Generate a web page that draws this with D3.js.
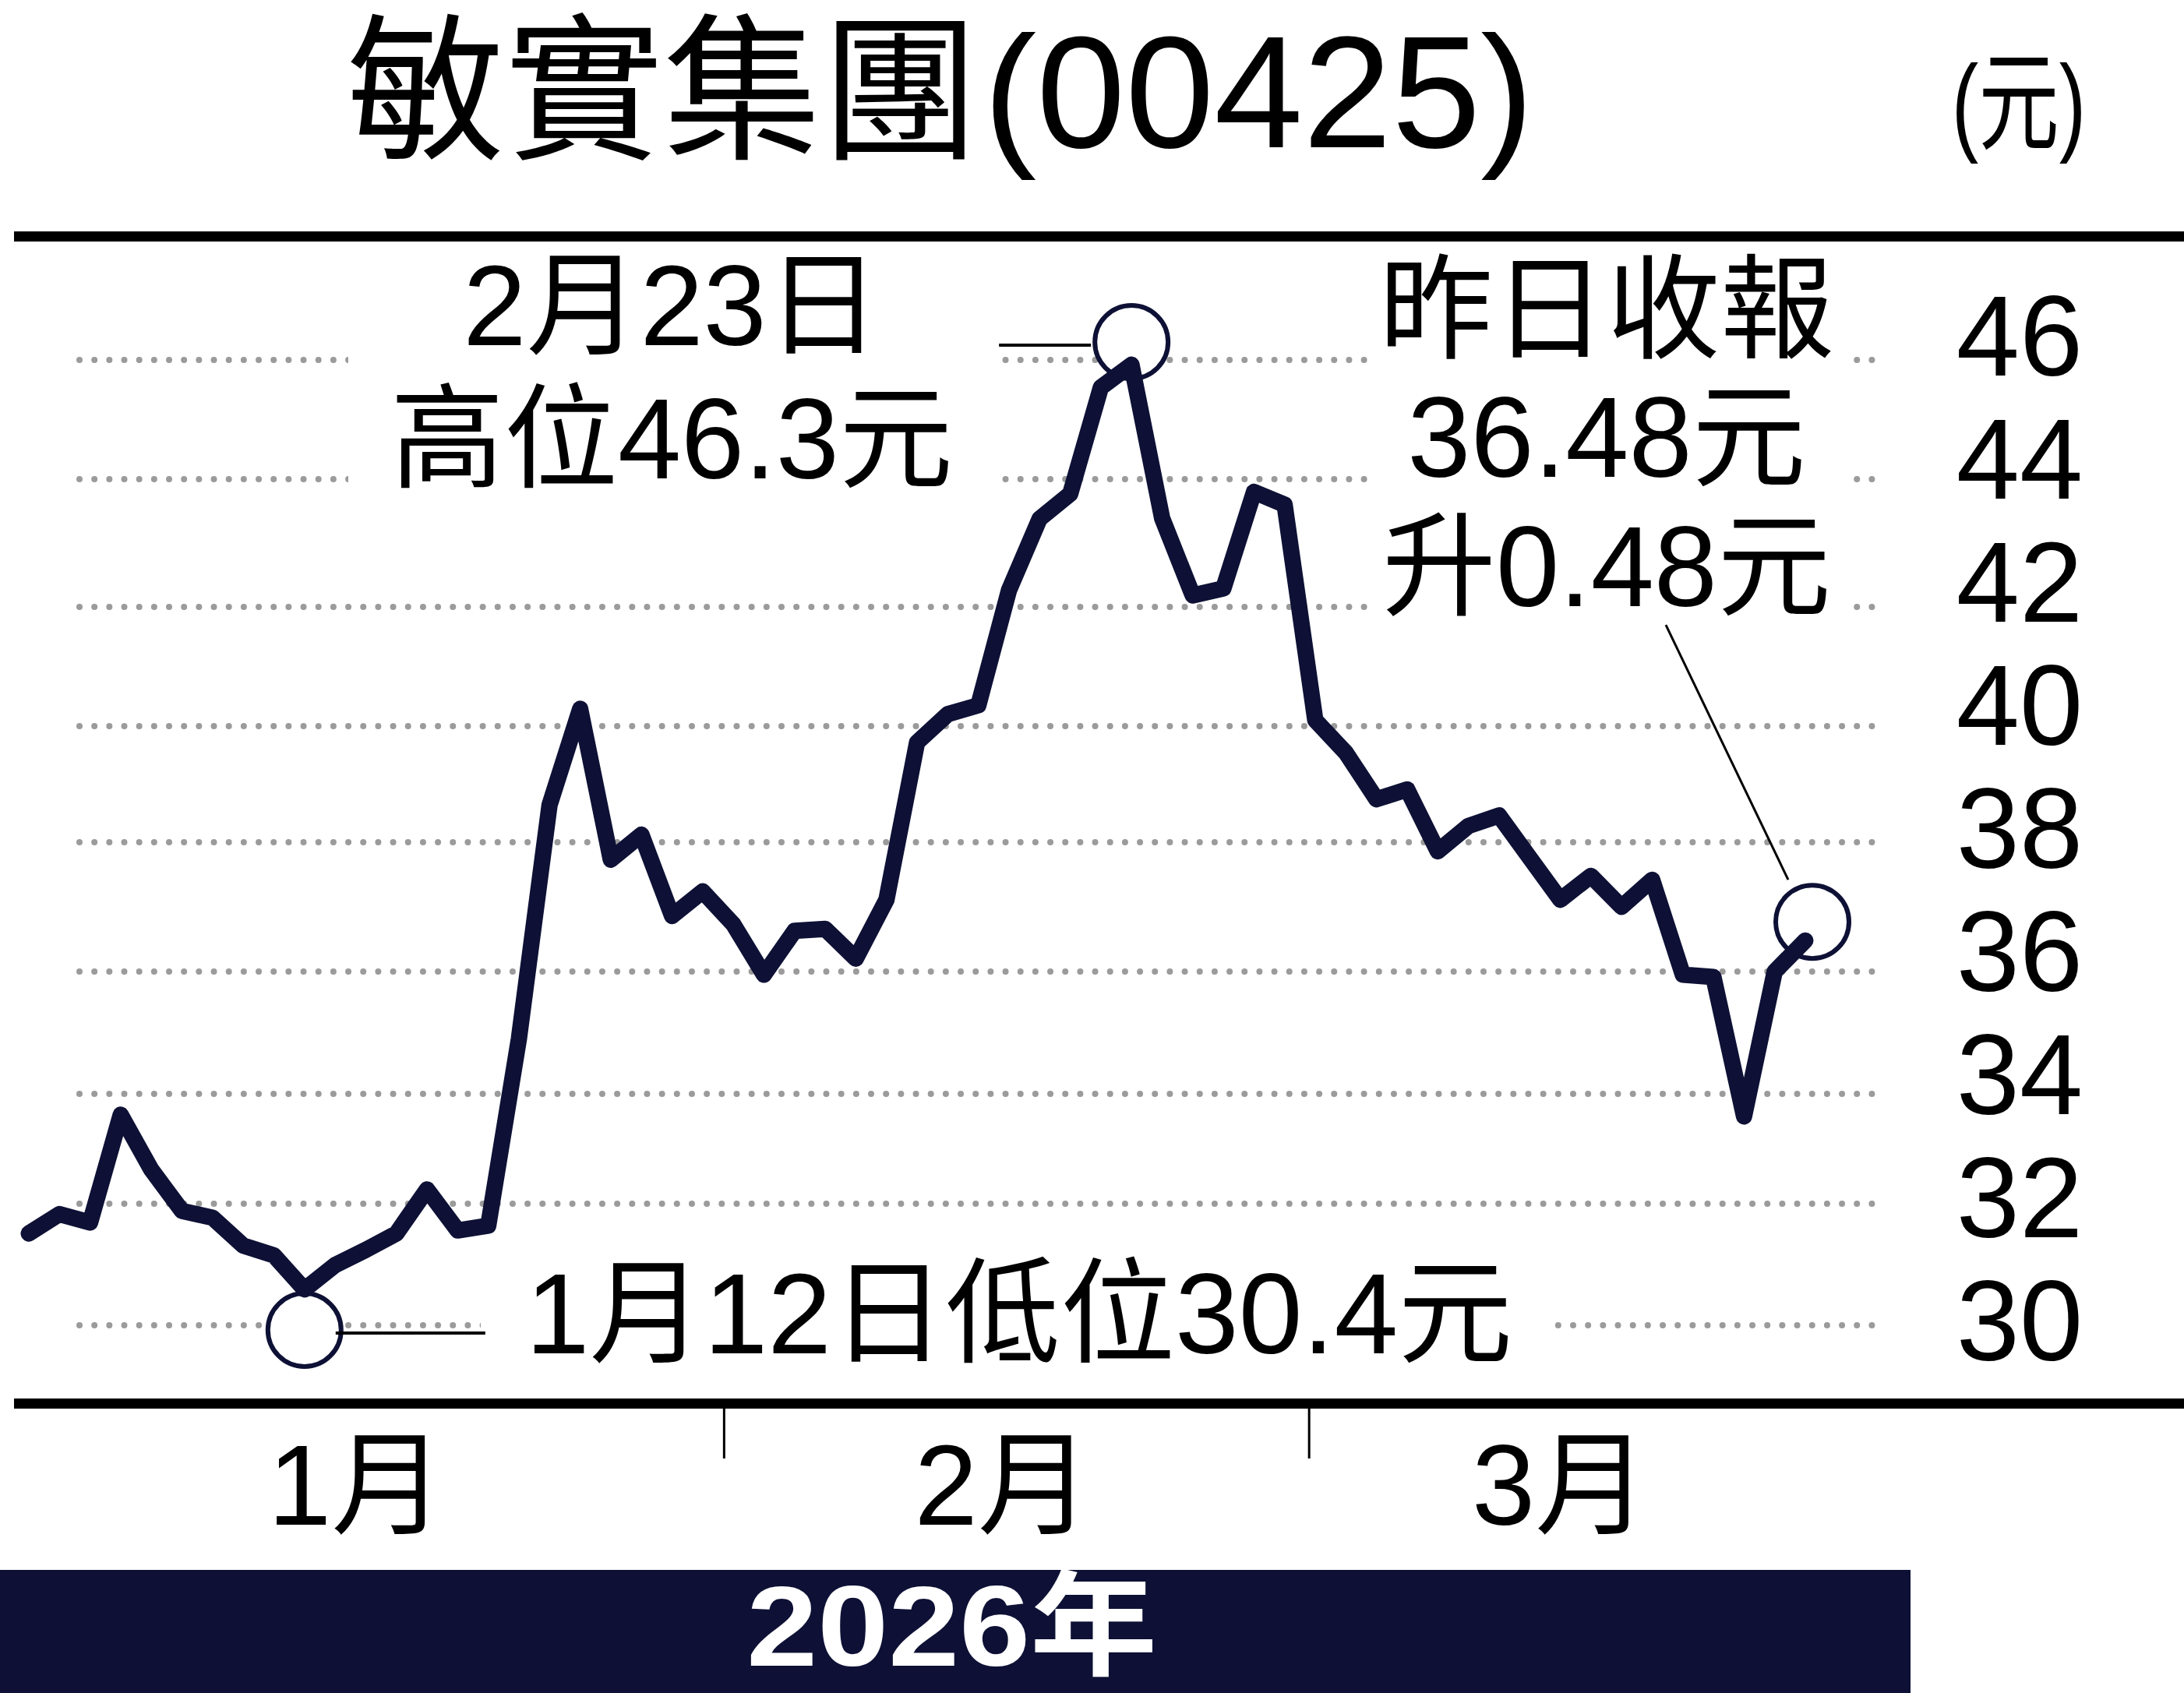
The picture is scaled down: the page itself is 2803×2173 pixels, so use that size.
<!DOCTYPE html>
<html>
<head>
<meta charset="utf-8">
<script src="https://cdn.jsdelivr.net/npm/d3@7/dist/d3.min.js"></script>
<style>
  html, body { margin: 0; padding: 0; background: #ffffff; }
  svg { display: block; }
  text { font-family: "Liberation Sans", "Noto Sans CJK TC", "Noto Sans CJK SC", sans-serif; }
</style>
</head>
<body>
<script>
// ---------------- data ----------------
// daily closes (HKD), trading days from late Dec 2025 to the latest close
const closes = [31.51, 31.83, 31.69, 33.62, 32.62, 31.88, 31.77, 31.31, 31.15, 30.59,
                30.99, 31.24, 31.51, 32.26, 31.56, 31.64, 34.90, 38.64, 40.29, 37.73,
                38.13, 36.86, 37.24, 36.73, 35.95, 36.63, 36.66, 36.20, 37.11, 39.72,
                40.20, 40.35, 42.26, 43.38, 43.77, 45.54, 45.92, 43.39, 42.18, 42.29,
                43.80, 43.60, 40.10, 39.54, 38.74, 38.91, 37.86, 38.28, 38.46, 37.76,
                37.11, 37.48, 37.00, 37.42, 35.95, 35.91, 33.59, 36.00, 36.48];
const yTicks = [30, 32, 34, 36, 38, 40, 42, 44, 46];
const monthLabels = ["1月", "2月", "3月"];
const monthLabelAt = [10.7, 31.8, 50.0];   // trading-day index
const monthBreaks = [22.7, 41.8];          // trading-day index
const highIndex = 36, highValue = 46.3;
const lowIndex = 9, lowValue = 30.4;
const closeValue = 36.48, changeValue = 0.48;
const titleName = "敏實集團", titleCode = "(00425)", unitLabel = "(元)", yearLabel = "2026年";
const highLines = ["2月23日", "高位" + highValue + "元"];
const closeLines = ["昨日收報", closeValue.toFixed(2) + "元", "升" + changeValue.toFixed(2) + "元"];
const lowLine = "1月12日低位" + lowValue + "元";

// ---------------- setup ----------------
const W = 2803, H = 2173;
const NAVY = "#0e1135", GRID = "#9b9b9b";
const svg = d3.select("body").append("svg").attr("width", W).attr("height", H);

const x = d3.scaleLinear().domain([0, closes.length - 1]).range([37, 2317]);
// gridlines of the original graphic are unevenly spaced: piecewise-linear scale
const y = d3.scaleLinear().domain(yTicks).range([1701, 1545, 1404, 1247, 1081, 932, 779, 615, 462]);
const yLab = d3.scaleLinear().domain([30, 46]).range([1694, 430]);

// ---------------- title ----------------
svg.append("text").attr("x", 445).attr("y", 189)
  .attr("font-size", 203).attr("fill", "#000").text(titleName);
svg.append("text").attr("x", 1262).attr("y", 189)
  .attr("font-size", 205).attr("fill", "#000").text(titleCode);
svg.append("text").attr("transform", "translate(2591,181) scale(0.74,1)")
  .attr("text-anchor", "middle").attr("font-size", 140).attr("fill", "#000").text(unitLabel);

// rules
svg.append("rect").attr("x", 18).attr("y", 297).attr("width", W - 18).attr("height", 13).attr("fill", "#000");
svg.append("rect").attr("x", 18).attr("y", 1795).attr("width", W - 18).attr("height", 13).attr("fill", "#000");

// ---------------- grid ----------------
svg.append("g").selectAll("line").data(yTicks).join("line")
  .attr("x1", 102).attr("x2", 2406)
  .attr("y1", d => y(d)).attr("y2", d => y(d))
  .attr("stroke", GRID).attr("stroke-width", 8).attr("stroke-linecap", "round")
  .attr("stroke-dasharray", "0 19.17");

// y labels
svg.append("g").selectAll("text").data(yTicks).join("text")
  .attr("x", 2592).attr("y", d => yLab(d) + 52)
  .attr("text-anchor", "middle").attr("font-size", 146).attr("fill", "#000")
  .text(d => d);

// white boxes behind annotations (mask the dotted grid)
const masks = [
  [447, 330, 831, 300],
  [1761, 330, 608, 470],
  [617, 1680, 1378, 50]
];
svg.append("g").selectAll("rect").data(masks).join("rect")
  .attr("x", d => d[0]).attr("y", d => d[1]).attr("width", d => d[2]).attr("height", d => d[3])
  .attr("fill", "#fff");

// ---------------- x axis ----------------
svg.append("g").selectAll("line").data(monthBreaks).join("line")
  .attr("x1", d => x(d)).attr("x2", d => x(d))
  .attr("y1", 1808).attr("y2", 1872)
  .attr("stroke", "#000").attr("stroke-width", 3);
svg.append("g").selectAll("text").data(monthLabels).join("text")
  .attr("x", (d, i) => x(monthLabelAt[i])).attr("y", 1957)
  .attr("text-anchor", "middle").attr("font-size", 146).attr("fill", "#000")
  .text(d => d);

// year band
svg.append("rect").attr("x", 0).attr("y", 2015).attr("width", 2452).attr("height", H - 2015).attr("fill", NAVY);
svg.append("text").attr("transform", "translate(1222,2138) scale(1.12,1)")
  .attr("text-anchor", "middle").attr("font-size", 146).attr("font-weight", "bold")
  .attr("fill", "#fff").text(yearLabel);

// ---------------- marker circles (under the line) ----------------
const R = 47;
const hi = { cx: x(highIndex), cy: y(highValue) };
const lo = { cx: x(lowIndex), cy: y(30) + 6 };
const last = closes.length - 1;
const cl = { cx: x(last) + 9, cy: y(closeValue) - 24 };

[hi, lo, cl].forEach(c => {
  svg.append("circle").attr("cx", c.cx).attr("cy", c.cy).attr("r", R)
    .attr("fill", "#fff").attr("stroke", NAVY).attr("stroke-width", 6);
});

// ---------------- price line ----------------
const line = d3.line().x((d, i) => x(i)).y(d => y(d));
svg.append("path").datum(closes)
  .attr("d", line)
  .attr("fill", "none").attr("stroke", NAVY).attr("stroke-width", 21)
  .attr("stroke-linejoin", "round").attr("stroke-linecap", "round");

// leader lines
svg.append("line").attr("x1", hi.cx - 170).attr("x2", hi.cx - 52)
  .attr("y1", hi.cy + 4).attr("y2", hi.cy + 4).attr("stroke", "#000").attr("stroke-width", 4);
svg.append("line").attr("x1", lo.cx + 40).attr("x2", lo.cx + 232)
  .attr("y1", lo.cy + 4).attr("y2", lo.cy + 4).attr("stroke", "#000").attr("stroke-width", 4);
svg.append("line").attr("x1", cl.cx - 188).attr("y1", cl.cy - 381)
  .attr("x2", cl.cx - 31).attr("y2", cl.cy - 54).attr("stroke", "#000").attr("stroke-width", 3);

// ---------------- annotation texts ----------------
const hiBase = [443, 614];
highLines.forEach((t, i) => {
  svg.append("text").attr("x", 862).attr("y", hiBase[i])
    .attr("text-anchor", "middle").attr("font-size", 146).attr("fill", "#000").text(t);
});
const clBase = [448, 612, 778];
closeLines.forEach((t, i) => {
  svg.append("text").attr("x", 2062).attr("y", clBase[i])
    .attr("text-anchor", "middle").attr("font-size", 146).attr("fill", "#000").text(t);
});
svg.append("text").attr("x", 1308).attr("y", 1737)
  .attr("text-anchor", "middle").attr("font-size", 147).attr("fill", "#000").text(lowLine);
</script>
</body>
</html>
